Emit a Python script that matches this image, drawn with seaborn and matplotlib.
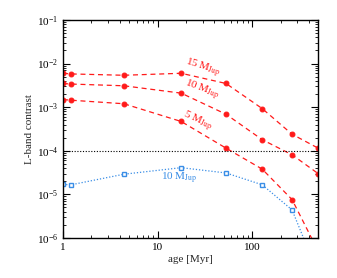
import numpy as np
import pandas as pd
import matplotlib
matplotlib.use("Agg")
import matplotlib.pyplot as plt
import seaborn as sns

# ages [Myr] of the model points
age = [1.0, 1.2, 4.4, 17.8, 53, 128, 265, 500]

# contrast in L band
c15 = [6.0e-3, 5.8e-3, 5.4e-3, 6.0e-3, 3.5e-3, 9.3e-4, 2.4e-4, 1.15e-4]
c10 = [3.5e-3, 3.4e-3, 3.1e-3, 2.1e-3, 6.9e-4, 1.8e-4, 8.1e-5, 3.0e-5]
c5 = [1.5e-3, 1.45e-3, 1.2e-3, 4.7e-4, 1.15e-4, 3.8e-5, 7.6e-6, 5.0e-7]
c10b = [1.7e-5, 1.65e-5, 2.9e-5, 4.1e-5, 3.1e-5, 1.66e-5, 4.4e-6, 1.5e-7]

limit = 1e-4

sns.set_theme(style="ticks")
plt.rcParams['font.family'] = ['Liberation Serif', 'DejaVu Serif']
plt.rcParams['mathtext.fontset'] = 'stix'

red = "#ff1a1a"
blue = "#3a8ee6"

fig = plt.figure(figsize=(3.37, 2.78), dpi=100)
ax = fig.add_axes([0.187, 0.144, 0.757, 0.784])

for c in [c15, c10, c5]:
    df = pd.DataFrame({"age": age, "contrast": c})
    sns.lineplot(data=df, x="age", y="contrast", ax=ax, color=red,
                 linestyle=(0, (4, 3)), linewidth=0.9, marker="o",
                 markersize=3.5, markeredgecolor=red)

dfb = pd.DataFrame({"age": age, "contrast": c10b})
sns.lineplot(data=dfb, x="age", y="contrast", ax=ax, color=blue,
             linestyle=(0, (1, 1.5)), linewidth=0.9, marker="s",
             markersize=3.5, markerfacecolor="white", markeredgecolor=blue,
             markeredgewidth=1.0)

ax.axhline(limit, color="black", linestyle=(0, (1, 1.5)), linewidth=0.8)

ax.set_xscale("log")
ax.set_yscale("log")
ax.set_xlim(1, 500)
ax.set_ylim(1e-6, 1e-1)

lab = r"$\mathrm{M}_{\mathrm{Jup}}$"
ax.text(30, 8.0e-3, "15 " + lab, color=red, fontsize=8, rotation=-17,
        ha="center", va="center")
ax.text(29.5, 2.4e-3, "10 " + lab, color=red, fontsize=8, rotation=-20,
        ha="center", va="center")
ax.text(26, 4.8e-4, "5 " + lab, color=red, fontsize=8, rotation=-24,
        ha="center", va="center")
ax.text(17, 2.35e-5, "10 " + lab, color=blue, fontsize=8,
        ha="center", va="center")

ax.set_xlabel("age [Myr]", fontsize=8, labelpad=2)
ax.set_ylabel("L-band contrast", fontsize=8, labelpad=2)
ax.xaxis.set_major_formatter(matplotlib.ticker.FuncFormatter(lambda v, p: "%g" % v))
ax.tick_params(which="both", direction="in", top=True, right=True, labelsize=8, colors="black")
ax.tick_params(which="major", length=5, width=0.8)
ax.tick_params(which="minor", length=2.5, width=0.6)
for s in ax.spines.values():
    s.set_linewidth(1.0)
    s.set_color("black")

fig.savefig("out.png", dpi=100)
